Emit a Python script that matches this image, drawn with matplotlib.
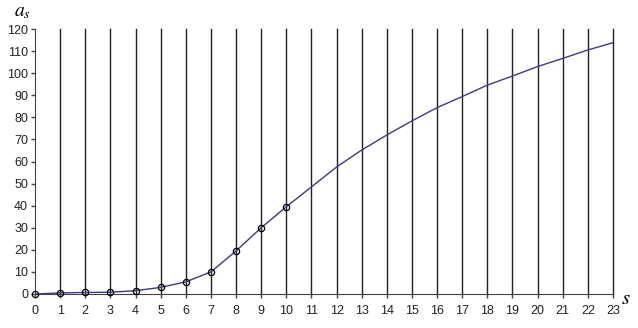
import numpy as np
import matplotlib.pyplot as plt

plt.rcParams['font.family'] = ['Liberation Sans', 'DejaVu Sans']
plt.rcParams['mathtext.fontset'] = 'stix'

s = np.arange(0, 24)
a_s = [0, 0.5, 0.7, 0.8, 1.5, 3, 5.5, 10, 19.5, 30, 39.5,
       48.5, 57.5, 65.2, 72, 78.4, 84.4, 89.4, 94.6, 98.7, 103, 106.7, 110.5, 113.8]
n_marked = 11  # circles drawn only for s = 0..10

fig = plt.figure(figsize=(6.38, 3.28), dpi=100)
ax = fig.add_axes([35/638, 1-294/328, (613-35)/638, (294-29)/328])

for x in s[1:]:
    ax.plot([x, x], [0, 120], color='#222222', lw=1.0, zorder=1, clip_on=False)

ax.plot(s, a_s, color='#3a3a8c', lw=1.0, zorder=3)
ax.plot(s[:n_marked], a_s[:n_marked], 'o', mfc='none', mec='black', ms=4.5, mew=0.9,
        zorder=4, clip_on=False)

ax.set_xlim(0, 23)
ax.set_ylim(0, 120)
ax.set_xticks(s)
ax.set_yticks(np.arange(0, 121, 10))
ax.spines['top'].set_visible(False)
ax.spines['right'].set_visible(False)
ax.spines['left'].set_color('#444444')
ax.spines['bottom'].set_color('#444444')
ax.tick_params(axis='both', direction='out', length=3, width=1, colors='#444444',
               labelcolor='#222222', labelsize=9)
ax.tick_params(axis='x', pad=5)
ax.tick_params(axis='y', pad=2)

fig.text(22/638, 1-12/328, r'$a_s$', fontsize=14, ha='center', va='center')
fig.text(626/638, 1-298/328, r'$s$', fontsize=15, ha='center', va='center')

fig.savefig('out.png', dpi=100)
